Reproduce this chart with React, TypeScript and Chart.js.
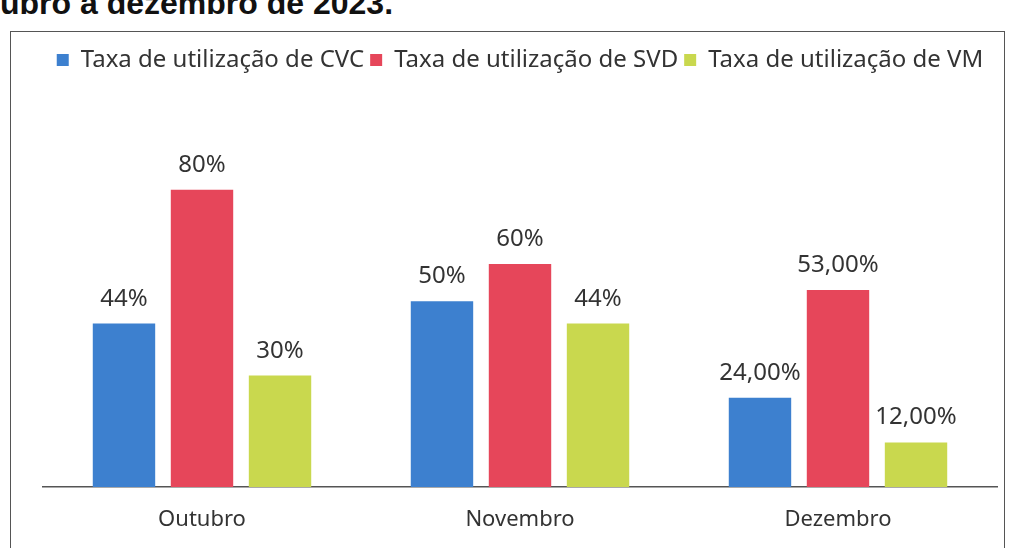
import React, { useEffect, useRef } from "react";
import { Chart, registerables } from "chart.js";

Chart.register(...registerables);

const categories = ["Outubro", "Novembro", "Dezembro"];
const seriesNames = [
  "Taxa de utilização de CVC",
  "Taxa de utilização de SVD",
  "Taxa de utilização de VM",
];
const cvcValues = [44, 50, 24];
const svdValues = [80, 60, 53];
const vmValues = [30, 44, 12];
const labelDecimals = [0, 0, 2];
const titleFragment = "ubro a dezembro de 2023.";

const colors = ["#3d80cf", "#e6465a", "#c9d84e"];
const FONT = "'Noto Sans', 'Open Sans', sans-serif";

const fmt = (v: number, d: number) =>
  v.toLocaleString("pt-BR", { minimumFractionDigits: d, maximumFractionDigits: d }) + "%";

const valueLabels = {
  id: "valueLabels",
  afterDatasetsDraw(chart: any) {
    const ctx = chart.ctx;
    ctx.save();
    ctx.font = `24px ${FONT}`;
    ctx.fillStyle = "#333333";
    ctx.textAlign = "center";
    ctx.textBaseline = "alphabetic";
    chart.data.datasets.forEach((ds: any, di: number) => {
      const meta = chart.getDatasetMeta(di);
      meta.data.forEach((bar: any, i: number) => {
        ctx.fillText(fmt(ds.data[i], labelDecimals[i]), bar.x, bar.y - 18);
      });
    });
    ctx.restore();
  },
};

export default function App() {
  const ref = useRef<HTMLCanvasElement>(null);
  useEffect(() => {
    if (!ref.current) return;
    const chart = new Chart(ref.current, {
      type: "bar",
      data: {
        labels: categories,
        datasets: [cvcValues, svdValues, vmValues].map((d, i) => ({
          label: seriesNames[i],
          data: d,
          backgroundColor: colors[i],
          categoryPercentage: 0.736,
          barPercentage: 0.8,
        })),
      },
      options: {
        animation: false,
        responsive: false,
        maintainAspectRatio: false,
        layout: { padding: { top: 42, left: 43, right: 13, bottom: 0 } },
        plugins: {
          legend: {
            position: "top",
            labels: {
              boxWidth: 12,
              boxHeight: 12,
              padding: 6,
              color: "#333333",
              font: { size: 24, family: FONT },
            },
          },
          tooltip: { enabled: false },
        },
        scales: {
          x: {
            grid: { display: false, drawTicks: false },
            border: { display: true, color: "#555555", width: 1.5 },
            ticks: { color: "#333333", padding: 20, font: { size: 22, family: FONT } },
            afterFit: (scale: any) => {
              scale.height = 61;
            },
          },
          y: { display: false, min: 0, max: 109 },
        },
      },
      plugins: [valueLabels],
    });
    return () => chart.destroy();
  }, []);
  return (
    <div style={{ position: "fixed", inset: 0, overflow: "hidden", background: "#fff" }}>
      <div
        style={{
          position: "absolute",
          left: 0,
          top: -15,
          fontFamily: "'Liberation Sans', Arial, sans-serif",
          fontWeight: "bold",
          fontSize: 32,
          color: "#111",
          whiteSpace: "nowrap",
        }}
      >
        {titleFragment}
      </div>
      <div
        style={{
          position: "absolute",
          left: 10,
          top: 31,
          width: 995,
          height: 540,
          border: "1.5px solid #555",
          boxSizing: "border-box",
        }}
      />
      <canvas
        ref={ref}
        width={1010}
        height={548}
        style={{ position: "absolute", left: 0, top: 0, width: 1010, height: 548 }}
      />
    </div>
  );
}
